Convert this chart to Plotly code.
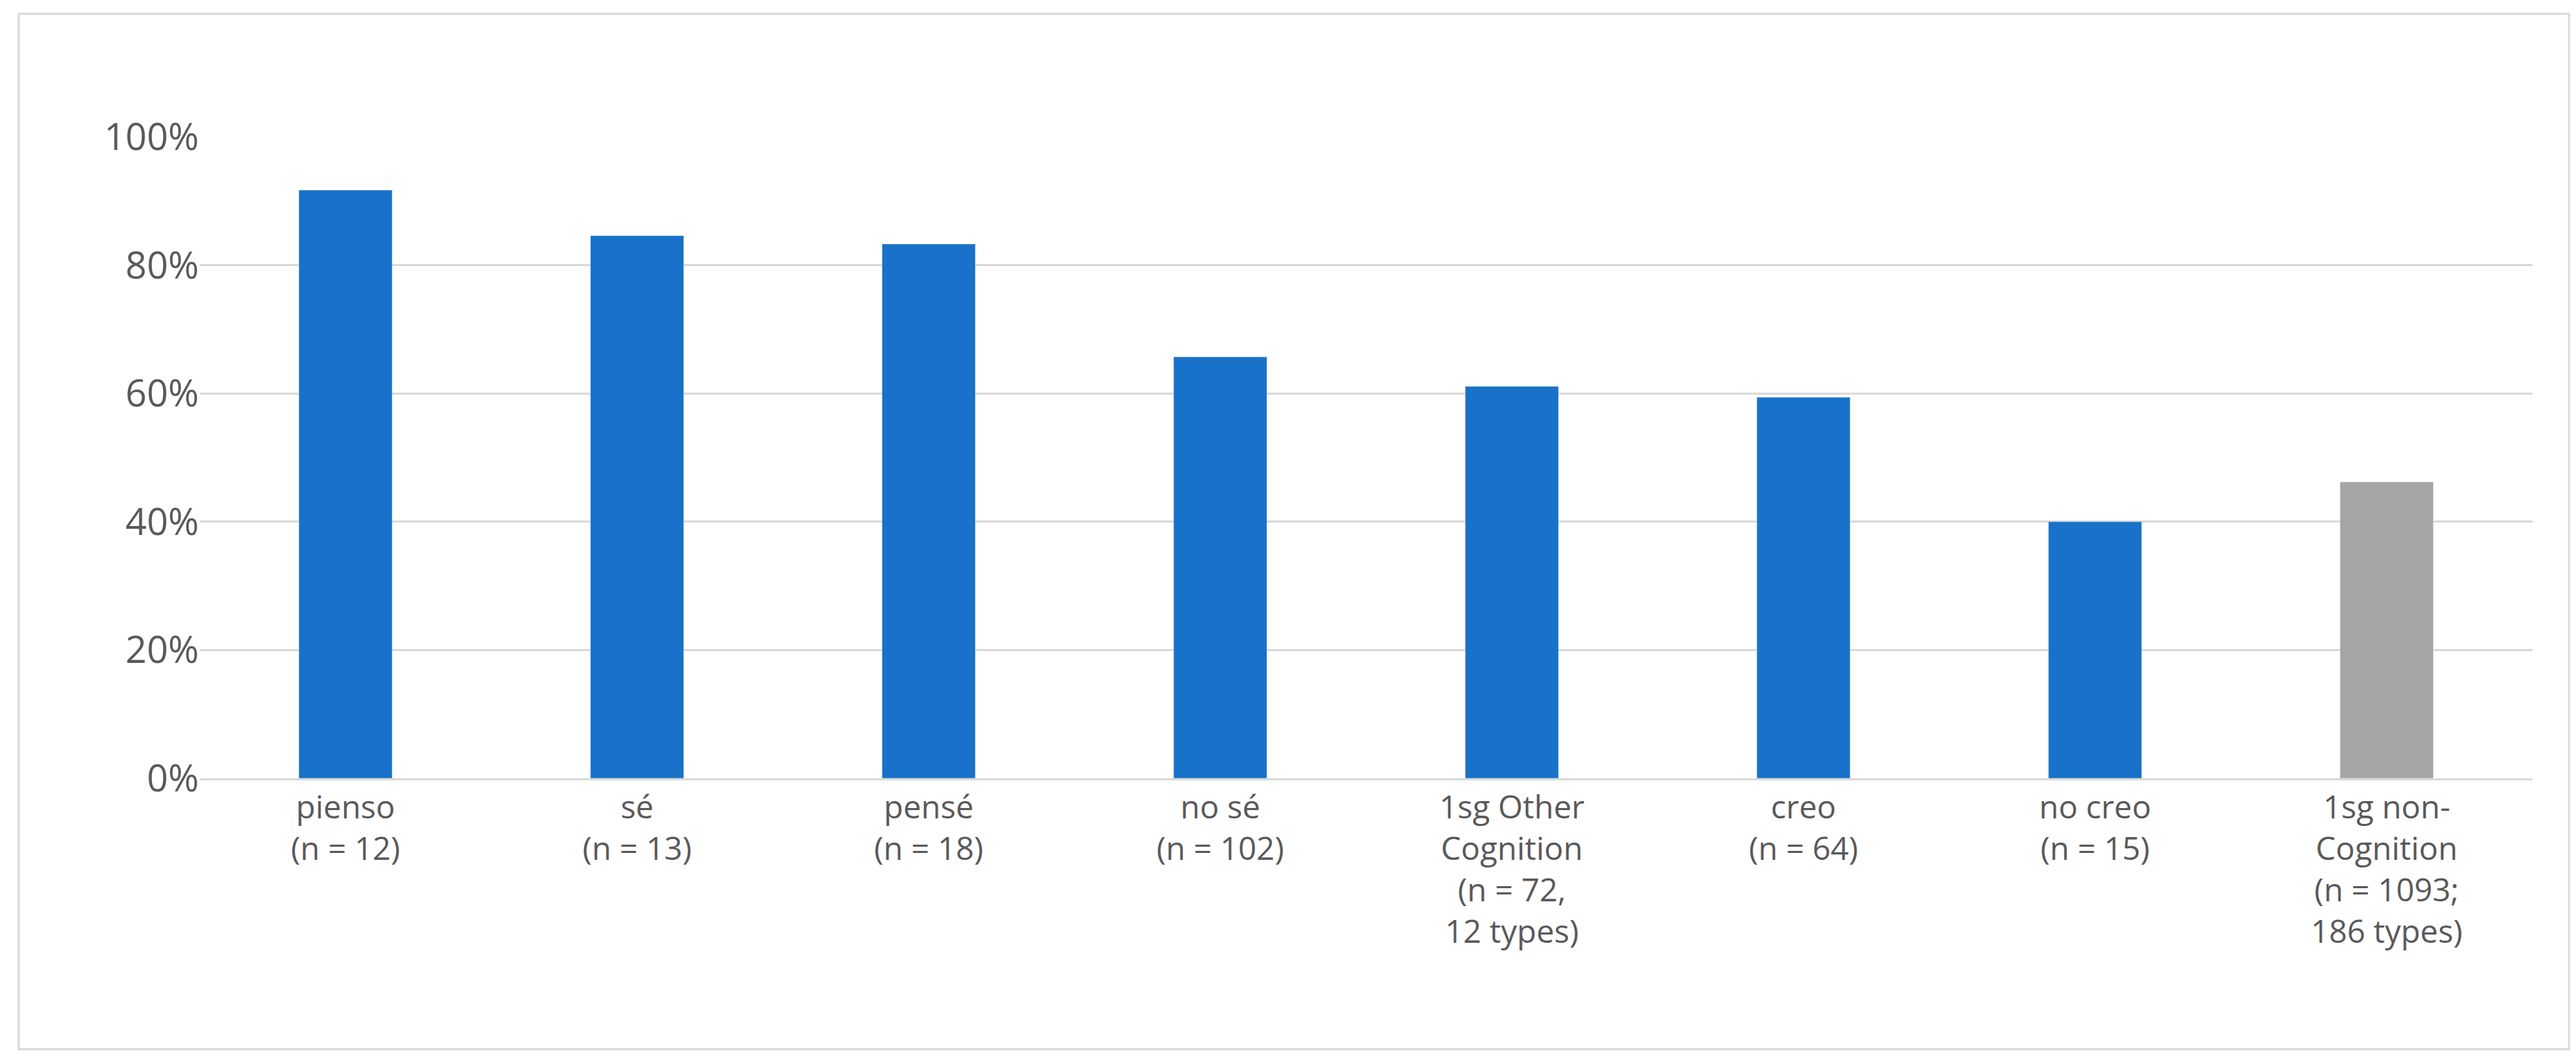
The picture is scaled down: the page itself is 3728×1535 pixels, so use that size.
import plotly.graph_objects as go

categories = ['pienso<br>(n = 12)', 'sé<br>(n = 13)', 'pensé<br>(n = 18)', 'no sé<br>(n = 102)',
              '1sg Other<br>Cognition<br>(n = 72,<br>12 types)', 'creo<br>(n = 64)', 'no creo<br>(n = 15)',
              '1sg non-<br>Cognition<br>(n = 1093;<br>186 types)']
shares = [0.917, 0.846, 0.833, 0.657, 0.611, 0.594, 0.400, 0.462]
colors = ['#1872C9'] * 7 + ['#A5A5A5']

W, H = 3728, 1535
L, R, T, B = 281, 71, 190, 417
pw, ph = W - L - R, H - T - B

fig = go.Figure(go.Bar(x=categories, y=shares, marker_color=colors, width=0.32))
fig.update_layout(
    width=W, height=H, margin=dict(l=L, r=R, t=T, b=B),
    plot_bgcolor='white', paper_bgcolor='white', showlegend=False,
    font=dict(family='Open Sans, Liberation Sans, sans-serif', color='#595959'),
)
fig.update_yaxes(range=[0, 1], tickformat='.0%', dtick=0.2, gridcolor='#D9D9D9', gridwidth=3,
                 tickfont=dict(size=54), ticks='', zeroline=False)
fig.update_xaxes(tickfont=dict(size=46), showline=True, linecolor='#D9D9D9', linewidth=3, ticks='')
# chart-area border
fig.add_shape(type='rect', xref='paper', yref='paper',
              x0=(19 - L) / pw, x1=(3710 - L) / pw,
              y0=(H - B - 1510) / ph, y1=(H - B - 12) / ph,
              line=dict(color='#D9D9D9', width=3))
fig.write_html('out.html')
